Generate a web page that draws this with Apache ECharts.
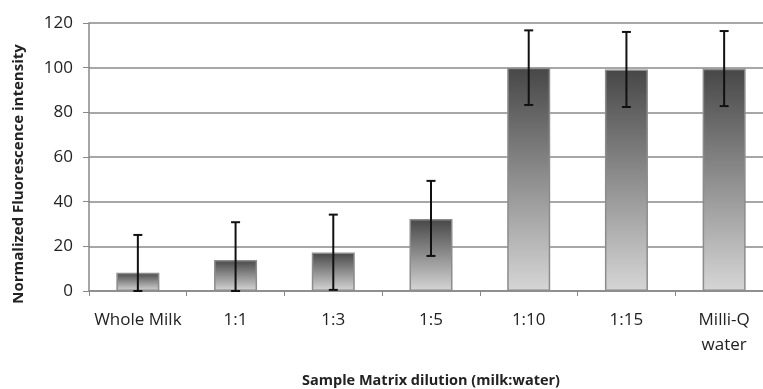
<!DOCTYPE html>
<html>
<head>
<meta charset="utf-8">
<script src="https://cdn.jsdelivr.net/npm/echarts@6/dist/echarts.min.js"></script>
<style>
  html, body { margin: 0; padding: 0; background: #fff; }
  #chart { width: 763px; height: 389px; }
</style>
</head>
<body>
<div id="chart"></div>
<script>
// values
var categories = ['Whole Milk', '1:1', '1:3', '1:5', '1:10', '1:15', 'Milli-Q\nwater'];
var intensity = [8.2, 13.9, 17.2, 32.2, 100, 99.2, 99.5];
var errLow = [0, 0, 0.5, 15.7, 83.3, 82.4, 82.8];
var errHigh = [25.1, 30.8, 34.2, 49.3, 116.7, 116.0, 116.4];
var yTicks = [0, 20, 40, 60, 80, 100, 120];

var chart = echarts.init(document.getElementById('chart'));

var errData = categories.map(function (c, i) { return [i, errLow[i], errHigh[i]]; });

var option = {
  animation: false,
  textStyle: { fontFamily: '"Open Sans", "Noto Sans", sans-serif' },
  grid: { left: 89, right: -10, top: 23, bottom: 98, outerBoundsMode: 'none' },
  xAxis: {
    type: 'category',
    data: categories,
    name: 'Sample Matrix dilution (milk:water)',
    nameLocation: 'middle',
    nameGap: 82,
    nameTextStyle: { fontSize: 14.5, fontWeight: 'bold', color: '#222' },
    axisLine: { lineStyle: { color: '#888', width: 1.5 } },
    axisTick: { show: true, length: 5, lineStyle: { color: '#888' } },
    axisLabel: { fontSize: 17, color: '#222', margin: 17, interval: 0, lineHeight: 25 }
  },
  yAxis: {
    type: 'value',
    min: yTicks[0],
    max: yTicks[yTicks.length - 1],
    interval: 20,
    name: 'Normalized Fluorescence intensity',
    nameLocation: 'middle',
    nameGap: 63,
    // right padding nudges the rotated title down a little
    nameTextStyle: { fontSize: 15, fontWeight: 'bold', color: '#222', padding: [0, 34, 0, 0] },
    axisLine: { show: true, lineStyle: { color: '#888', width: 1.5 } },
    axisTick: { show: true, length: 6, lineStyle: { color: '#888' } },
    axisLabel: { fontSize: 17, color: '#222', margin: 16 },
    splitLine: { lineStyle: { color: '#8a8a8a', width: 1.5 } }
  },
  series: [
    {
      type: 'bar',
      data: intensity,
      barWidth: 43,
      itemStyle: {
        borderColor: '#8c8c8c',
        borderWidth: 1.5,
        color: new echarts.graphic.LinearGradient(0, 0, 0, 1, [
          { offset: 0, color: '#474747' },
          { offset: 1, color: '#d6d6d6' }
        ])
      }
    },
    {
      type: 'custom',
      data: errData,
      z: 10,
      renderItem: function (params, api) {
        var lo = api.coord([api.value(0), api.value(1)]);
        var hi = api.coord([api.value(0), api.value(2)]);
        var w = 4.5;
        var style = { stroke: '#111', lineWidth: 2 };
        return {
          type: 'group',
          children: [
            { type: 'line', shape: { x1: hi[0], y1: hi[1], x2: lo[0], y2: lo[1] }, style: style },
            { type: 'line', shape: { x1: hi[0] - w, y1: hi[1], x2: hi[0] + w, y2: hi[1] }, style: style },
            { type: 'line', shape: { x1: lo[0] - w, y1: lo[1], x2: lo[0] + w, y2: lo[1] }, style: style }
          ]
        };
      }
    }
  ]
};

chart.setOption(option);
</script>
</body>
</html>
